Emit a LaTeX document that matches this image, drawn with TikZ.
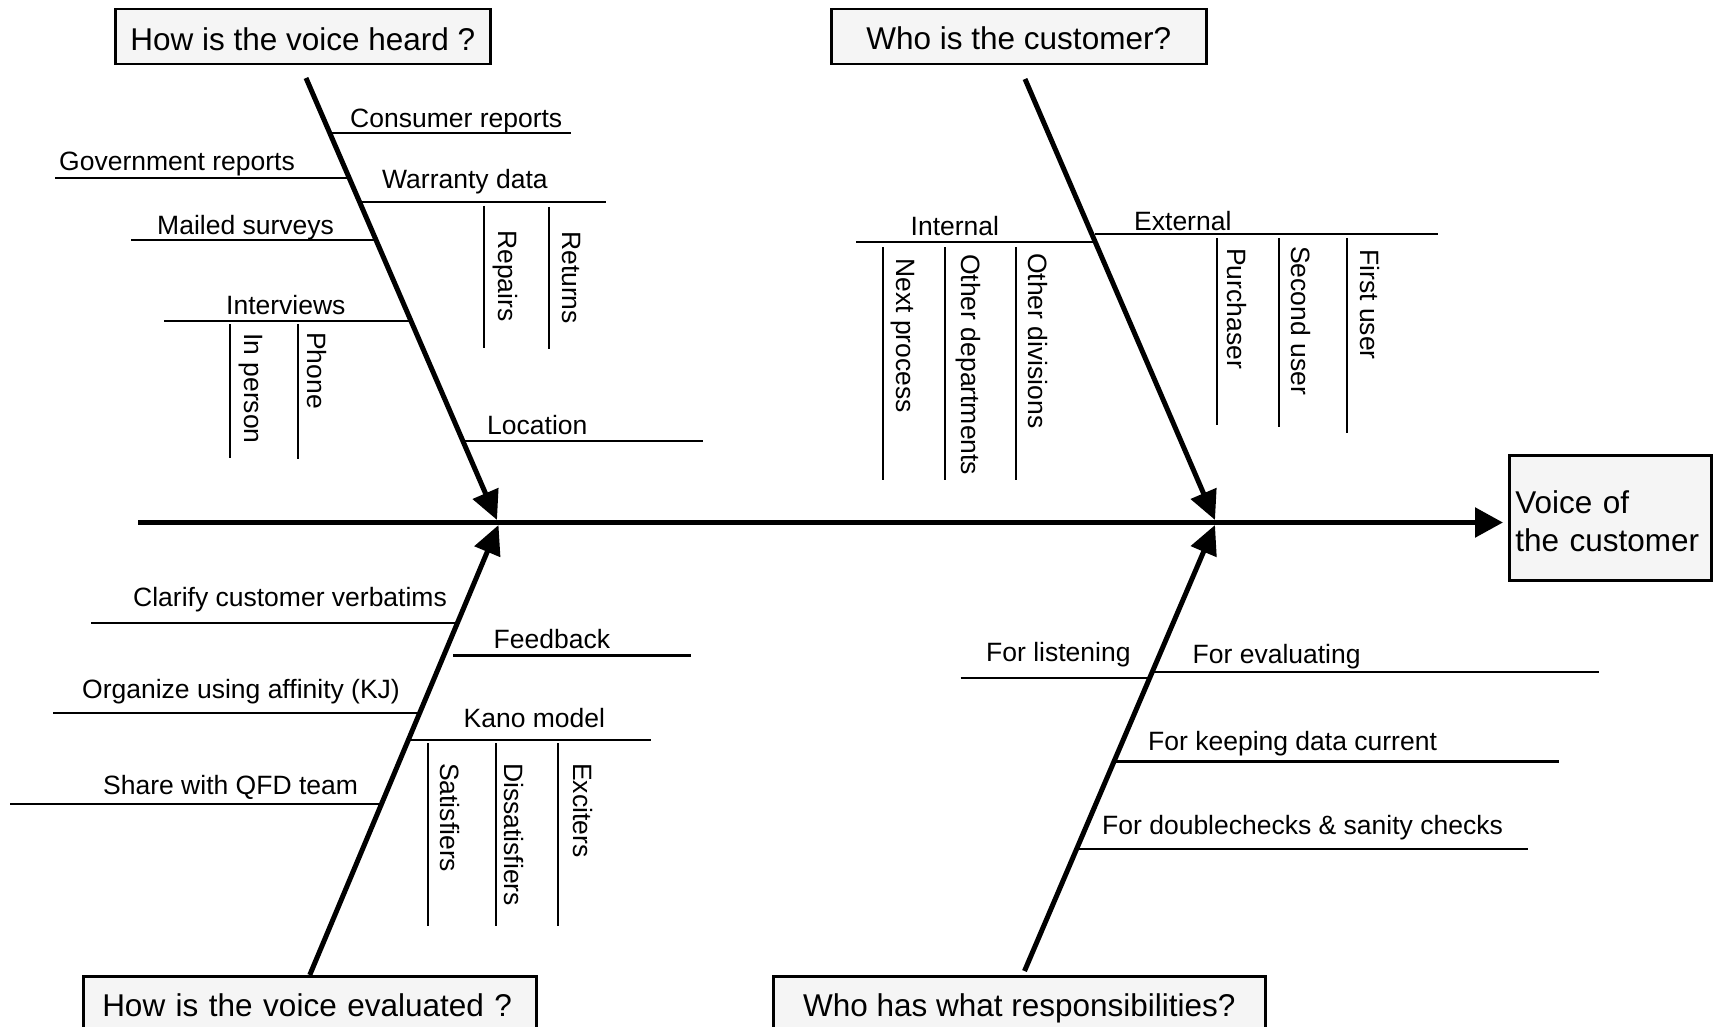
\documentclass[tikz,border=0pt]{standalone}
\usepackage{fontspec}
\setmainfont{Liberation Sans}
\usetikzlibrary{arrows.meta}
\definecolor{boxgray}{RGB}{245,245,245}
\newcommand{\ttlfont}{\fontsize{31.5pt}{38pt}\selectfont}
\newcommand{\lblfont}{\fontsize{26.5pt}{32pt}\selectfont}
% horizontal branch: name, x from, x to, y, label x, label baseline y, label
\newcommand{\fbranch}[7]{%
  \coordinate (#1-a) at (#2,#4);
  \coordinate (#1-b) at (#3,#4);
  \draw[twig] (#1-a) -- (#1-b);
  \node[lab] (#1) at (#5,#6) {#7};}
% vertical sub-branch: name, x, y from, y to, label baseline x, label start y, label
\newcommand{\fdrop}[7]{%
  \coordinate (#1-a) at (#2,#3);
  \coordinate (#1-b) at (#2,#4);
  \draw[twig] (#1-a) -- (#1-b);
  \node[vlab] (#1) at (#5,#6) {#7};}
\begin{document}
\begin{tikzpicture}[x=1pt,y=-1pt,
  spine/.style={line width=5.5pt,-{Triangle[length=28pt,width=29pt]}},
  bone/.style={line width=5pt,-{Triangle[length=29pt,width=27pt]}},
  twig/.style={line width=2.4pt},
  title/.style={draw,line width=2.5pt,fill=boxgray,inner xsep=0pt,inner ysep=0pt,font=\ttlfont,anchor=north west},
  lab/.style={inner sep=0pt,anchor=base west,font=\lblfont},
  vlab/.style={inner sep=0pt,anchor=base west,rotate=-90,font=\lblfont}]
\useasboundingbox (0,0) rectangle (1716,1027);

% category boxes
\node[title,minimum width=375pt,text height=41pt,text depth=14pt] (heard) at (114,8) {How is the voice heard ?};
\node[title,minimum width=375pt,text height=40pt,text depth=15pt] (who) at (830,8) {Who is the customer?};
\node[title,inner xsep=19pt,text width=415pt,align=left,text height=40.5pt,text depth=33pt] (evald) at (82,975) {How is the voice evaluated ?};
\node[title,minimum width=492pt,text height=40pt,text depth=33pt] (resp) at (772,975) {Who has what responsibilities?};
\node[title,text width=190pt,inner xsep=6pt,align=left,text height=58pt,text depth=67pt] (voc) at (1508,454) {Voice of\\the customer};

% How is the voice heard ?
\fbranch{cons}{330}{571}{133}{350}{128}{Consumer reports}
\fbranch{govt}{55}{349}{178}{59}{171}{Government reports}
\fbranch{warr}{360}{606}{202}{382}{189}{Warranty data}
\fbranch{mail}{131}{376}{240}{157}{234}{Mailed surveys}
\fbranch{intv}{164}{411}{321}{226}{314}{Interviews}
\fbranch{loc}{463}{703}{441}{487}{434}{Location}
\fdrop{rep}{484}{206}{348}{498}{230}{Repairs}
\fdrop{ret}{549}{207}{349}{562}{231}{Returns}
\fdrop{inp}{230}{324}{458}{244}{333}{In person}
\fdrop{pho}{298}{324}{459}{307}{332}{Phone}

% Who is the customer?
\fbranch{intl}{856}{1095}{242}{910.5}{236}{Internal}
\fbranch{extl}{1095}{1438}{234}{1134}{231}{External}
\fdrop{nxt}{883}{247}{480}{896}{258}{Next process}
\fdrop{odep}{945}{247}{480}{961}{254}{Other departments}
\fdrop{odiv}{1016}{247}{480}{1028}{253}{Other divisions}
\fdrop{pur}{1217}{238}{425}{1227}{248}{Purchaser}
\fdrop{sec}{1279}{238}{427}{1291}{246}{Second user}
\fdrop{fst}{1347}{238}{433}{1360}{249}{First user}

% How is the voice evaluated ?
\fbranch{clar}{91}{457}{623}{133}{606}{Clarify customer verbatims}
\fbranch{feed}{453}{691}{655.5}{493.5}{648}{Feedback}
\fbranch{org}{53}{419}{713}{82}{698}{Organize using affinity (KJ)}
\fbranch{kano}{408}{651}{740}{463.5}{727}{Kano model}
\fbranch{share}{10}{381}{804}{103}{794}{Share with QFD team}
\fdrop{sat}{428}{743}{926}{440}{763}{Satisfiers}
\fdrop{dis}{496}{743}{926}{504}{763}{Dissatisfiers}
\fdrop{exc}{558}{743}{926}{573.5}{763}{Exciters}

% Who has what responsibilities?
\fbranch{lst}{960.5}{1148}{678}{986}{661}{For listening}
\fbranch{evl}{1151}{1599}{672}{1192.5}{663}{For evaluating}
\fbranch{keep}{1114}{1559}{761.5}{1148}{750}{For keeping data current}
\fbranch{dbl}{1077}{1528}{849}{1102}{834}{For doublechecks \& sanity checks}

% main bones
\coordinate (b1s) at (306,78);
\coordinate (j1) at (497,520);
\coordinate (b2s) at (1025,79);
\coordinate (j2) at (1215,520);
\coordinate (j3) at (498.5,525);
\coordinate (b4s) at (1024.5,971);
\coordinate (j4) at (1215,525);
\draw[bone] (b1s) -- (j1);
\draw[bone] (b2s) -- (j2);
\draw[bone] (evald.north) -- (j3);
\draw[bone] (b4s) -- (j4);

% spine
\coordinate (tail) at (138,522.5);
\draw[spine,shorten >=5pt] (tail) -- (tail -| voc.west);
\end{tikzpicture}
\end{document}
